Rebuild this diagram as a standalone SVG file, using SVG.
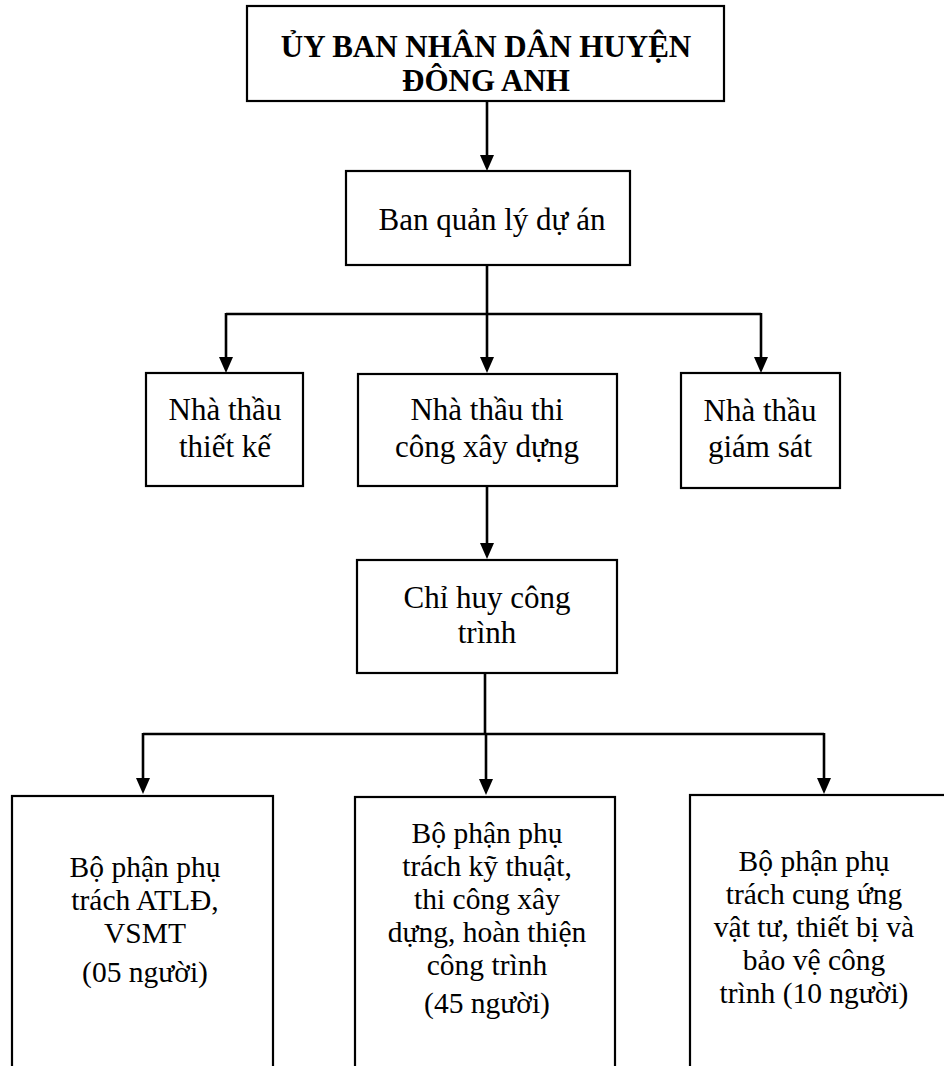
<svg xmlns="http://www.w3.org/2000/svg" width="944" height="1066" viewBox="0 0 944 1066">
<style>
.box{fill:#fff;stroke:#000;stroke-width:2.2}
.t{font-family:"Liberation Serif","Times New Roman",serif;font-size:31px;fill:#000;text-anchor:middle}
.s{font-size:29.5px}
.b{font-weight:bold}
.c{fill:none;stroke:#000;stroke-width:2.6}
.h{fill:#000}
</style>
<rect width="944" height="1066" fill="#fff"/>
<g id="connectors">
<path class="c" d="M487,101 V158"/>
<path class="c" d="M487,265 V360"/>
<path class="c" d="M226,314 H761"/>
<path class="c" d="M226,313 V360"/>
<path class="c" d="M761,313 V360"/>
<path class="c" d="M487,486 V546"/>
<path class="c" d="M485,673 V734"/>
<path class="c" d="M143,734 H824"/>
<path class="c" d="M143,733 V781"/>
<path class="c" d="M486,734 V782"/>
<path class="c" d="M824,733 V781"/>
<path class="h" d="M480,155 L494,155 L487,171 Z"/>
<path class="h" d="M480,357 L494,357 L487,373 Z"/>
<path class="h" d="M219,357 L233,357 L226,373 Z"/>
<path class="h" d="M754,357 L768,357 L761,373 Z"/>
<path class="h" d="M480,543 L494,543 L487,559 Z"/>
<path class="h" d="M136,778 L150,778 L143,794 Z"/>
<path class="h" d="M479,779 L493,779 L486,795 Z"/>
<path class="h" d="M817,778 L831,778 L824,794 Z"/>
</g>
<g id="n-ubnd">
<rect class="box" x="247" y="6" width="477" height="95"/>
<text class="t b" x="486" y="57">ỦY BAN NHÂN DÂN HUYỆN</text>
<text class="t b" x="486" y="91">ĐÔNG ANH</text>
</g>
<g id="n-bqlda">
<rect class="box" x="346" y="171" width="284" height="94"/>
<text class="t" x="492" y="230">Ban quản lý dự án</text>
</g>
<g id="n-tk">
<rect class="box" x="146" y="373" width="157" height="113"/>
<text class="t" x="225" y="420">Nhà thầu</text>
<text class="t" x="225" y="457">thiết kế</text>
</g>
<g id="n-tc">
<rect class="box" x="358" y="374" width="259" height="112"/>
<text class="t" x="487" y="420">Nhà thầu thi</text>
<text class="t" x="487" y="457">công xây dựng</text>
</g>
<g id="n-gs">
<rect class="box" x="681" y="373" width="159" height="115"/>
<text class="t" x="760" y="421">Nhà thầu</text>
<text class="t" x="760" y="457">giám sát</text>
</g>
<g id="n-chct">
<rect class="box" x="357" y="560" width="260" height="113"/>
<text class="t" x="487" y="608">Chỉ huy công</text>
<text class="t" x="487" y="643">trình</text>
</g>
<g id="n-atld">
<rect class="box" x="12" y="796" width="261" height="300"/>
<text class="t s" x="145" y="877">Bộ phận phụ</text>
<text class="t s" x="145" y="910">trách ATLĐ,</text>
<text class="t s" x="145" y="943">VSMT</text>
<text class="t s" x="145" y="982">(05 người)</text>
</g>
<g id="n-kt">
<rect class="box" x="355" y="797" width="260" height="300"/>
<text class="t s" x="487" y="843">Bộ phận phụ</text>
<text class="t s" x="487" y="876">trách kỹ thuật,</text>
<text class="t s" x="487" y="909">thi công xây</text>
<text class="t s" x="487" y="942">dựng, hoàn thiện</text>
<text class="t s" x="487" y="975">công trình</text>
<text class="t s" x="487" y="1013">(45 người)</text>
</g>
<g id="n-cu">
<rect class="box" x="690" y="795" width="300" height="300"/>
<text class="t s" x="814" y="871">Bộ phận phụ</text>
<text class="t s" x="814" y="904">trách cung ứng</text>
<text class="t s" x="814" y="937">vật tư, thiết bị và</text>
<text class="t s" x="814" y="970">bảo vệ công</text>
<text class="t s" x="814" y="1003">trình (10 người)</text>
</g>
</svg>
